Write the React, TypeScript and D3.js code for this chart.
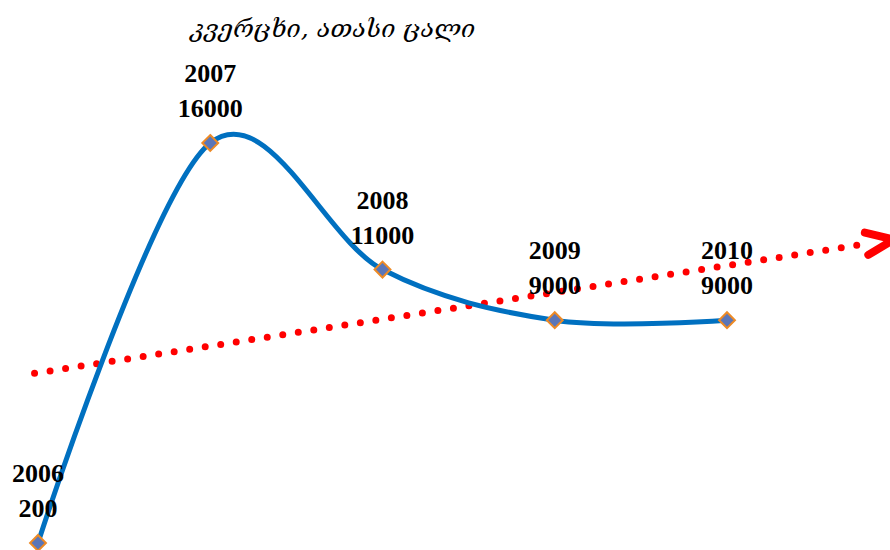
import React from "react";
import * as d3 from "d3";

const years = [2006, 2007, 2008, 2009, 2010];
const values = [200, 16000, 11000, 9000, 9000];
const title = "კვერცხი, ათასი ცალი";

const W = 890;
const H = 550;

export default function App() {
  const x = d3.scaleLinear().domain([2006, 2010]).range([38, 727]);
  const y = d3.scaleLinear().domain([0, 16000]).range([548, 143]);

  const pts: [number, number][] = years.map((yr, i) => [x(yr), y(values[i])]);
  const line = d3
    .line<[number, number]>()
    .x((d) => d[0])
    .y((d) => d[1])
    .curve(d3.curveCardinal.tension(0));

  // linear regression trend
  const mx = d3.mean(years)!;
  const my = d3.mean(values)!;
  const slope =
    d3.sum(years, (yr, i) => (yr - mx) * (values[i] - my)) /
    d3.sum(years, (yr) => (yr - mx) * (yr - mx));
  const trend = (yr: number) => my + slope * (yr - mx);
  const t0 = 2005.98;
  const t1 = 2010.78;
  const tTip = 2010.97;
  const tipX = x(tTip);
  const tipY = y(trend(tTip));
  const ang = Math.atan2(y(trend(tTip)) - y(trend(t1)), x(tTip) - x(t1));
  const armLen = 30;
  const half = (22 * Math.PI) / 180;
  const a1 = [tipX - armLen * Math.cos(ang - half), tipY - armLen * Math.sin(ang - half)];
  const a2 = [tipX - armLen * Math.cos(ang + half), tipY - armLen * Math.sin(ang + half)];

  const diamond = d3.symbol().type(d3.symbolDiamond2).size(160)();

  return (
    <svg
      width={W}
      height={H}
      style={{ position: "absolute", left: 0, top: 0, background: "#fff" }}
    >
      <text
        x={333}
        y={37}
        textAnchor="middle"
        fontFamily="'DejaVu Serif', serif"
        fontStyle="italic"
        fontSize={25}
        fill="#000"
      >
        {title}
      </text>
      <line
        x1={x(t0)}
        y1={y(trend(t0))}
        x2={x(t1)}
        y2={y(trend(t1))}
        stroke="#FF0000"
        strokeWidth={7}
        strokeLinecap="round"
        strokeDasharray="0 15.7"
      />
      <path
        d={`M${a1[0]},${a1[1]}L${tipX},${tipY}L${a2[0]},${a2[1]}`}
        fill="none"
        stroke="#FF0000"
        strokeWidth={8}
        strokeLinecap="round"
        strokeLinejoin="miter"
      />
      <path d={line(pts) || ""} fill="none" stroke="#0070C0" strokeWidth={5} />
      {pts.map((p, i) => (
        <path
          key={"m" + i}
          d={diamond || ""}
          transform={`translate(${p[0]},${p[1]})`}
          fill="#5B76B8"
          stroke="#ED8A25"
          strokeWidth={2}
        />
      ))}
      {pts.map((p, i) => (
        <g
          key={"l" + i}
          fontFamily="'Liberation Serif', 'Times New Roman', serif"
          fontWeight="bold"
          fontSize={26}
          textAnchor="middle"
          fill="#000"
        >
          <text x={p[0]} y={p[1] - 61}>
            {years[i]}
          </text>
          <text x={p[0]} y={p[1] - 26}>
            {values[i]}
          </text>
        </g>
      ))}
    </svg>
  );
}
